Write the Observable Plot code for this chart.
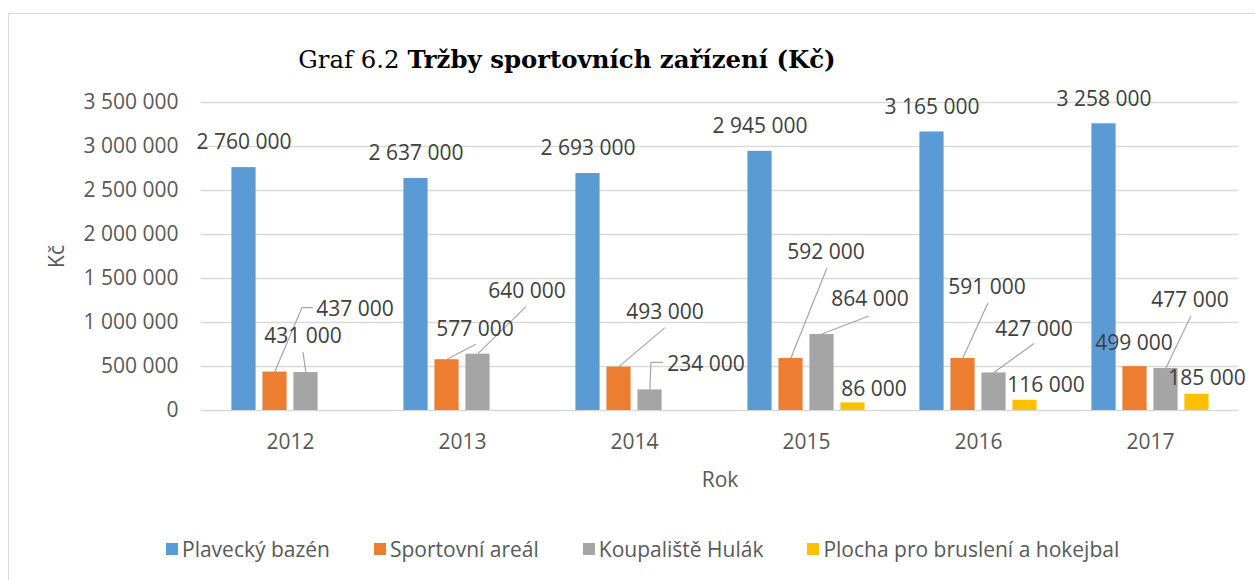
<!DOCTYPE html>
<html><head><meta charset="utf-8">
<script src="https://cdn.jsdelivr.net/npm/d3@7"></script>
<script src="https://cdn.jsdelivr.net/npm/@observablehq/plot@0.6"></script>
<style>
html,body{margin:0;padding:0;background:#fff;}
#wrap{position:relative;width:1255px;height:580px;overflow:hidden;font-family:"Open Sans",sans-serif;}
#frame{position:absolute;left:8px;top:13px;width:1300px;height:620px;border:1.5px solid #d9d9d9;box-sizing:border-box;}
#title{position:absolute;left:0;top:41px;width:1134px;text-align:center;font-family:"DejaVu Serif",serif;font-size:24.4px;color:#000;line-height:38px;white-space:nowrap;}
#title b{font-weight:bold;}
#chart{position:absolute;left:0;top:80px;}
#legend{position:absolute;left:166px;top:535px;display:flex;gap:44px;align-items:center;font-size:21px;color:#595959;white-space:nowrap;}
#legend .item{display:flex;align-items:center;gap:4px;}
#legend .sw{width:12px;height:12px;display:inline-block;}
</style>
</head>
<body>
<div id="wrap">
  <div id="frame"></div>
  <div id="title">Graf 6.2 <b>Tržby sportovních zařízení (Kč)</b></div>
  <div id="chart"></div>
  <div id="legend"></div>
</div>
<script>
// ---- data ----
const years = ["2012", "2013", "2014", "2015", "2016", "2017"];
const seriesNames = ["Plavecký bazén", "Sportovní areál", "Koupaliště Hulák", "Plocha pro bruslení a hokejbal"];
const plaveckyBazen = [2760000, 2637000, 2693000, 2945000, 3165000, 3258000];
const sportovniAreal = [437000, 577000, 493000, 592000, 591000, 499000];
const koupalisteHulak = [431000, 640000, 234000, 864000, 427000, 477000];
const plochaBrusleni = [null, null, null, 86000, 116000, 185000];
const yTicks = [0, 500000, 1000000, 1500000, 2000000, 2500000, 3000000, 3500000];

// ---- styles / layout ----
const seriesValues = [plaveckyBazen, sportovniAreal, koupalisteHulak, plochaBrusleni];
const colors = ["#5b9bd5", "#ed7d31", "#a5a5a5", "#ffc000"];
const W = 1255, H = 430, ML = 201, MR = 17, MT = 22, MB = 100;
const BW = (W - ML - MR) / years.length;
const barW = 25, barStep = 31;
const groupOff = (BW - (barStep * (seriesValues.length - 1) + barW)) / 2;
const centerOff = i => groupOff + barStep * i + barW / 2; // from band start

// manual label placement (pixel offsets from bar-top centre), like the Excel original
const defaultLabel = {dx: 0, dy: -25};
const labelLayout = {
  "1|2012": {dx: 80, dy: -63, leader: [[0, 0], [27, -64], [38, -64]]},
  "2|2012": {dx: -3, dy: -36, leader: [[0, 0], [-3, -20]]},
  "1|2013": {dx: 28, dy: -30, leader: [[0, 0], [29, -15]]},
  "2|2013": {dx: 49, dy: -63, leader: [[0, 0], [48, -47]]},
  "1|2014": {dx: 46, dy: -55, leader: [[0, 0], [46, -39]]},
  "2|2014": {dx: 56, dy: -26, leader: [[0, 0], [1, -27], [13, -27]]},
  "1|2015": {dx: 35, dy: -106, leader: [[0, 0], [36, -90]]},
  "2|2015": {dx: 48, dy: -35, leader: [[0, 0], [47, -18]]},
  "3|2015": {dx: 21, dy: -14},
  "1|2016": {dx: 24, dy: -71, leader: [[0, 0], [25, -55]]},
  "2|2016": {dx: 40, dy: -44, leader: [[0, 0], [40, -29]]},
  "3|2016": {dx: 21, dy: -15},
  "1|2017": {dx: -1, dy: -23},
  "2|2017": {dx: 24, dy: -68, leader: [[0, 0], [25, -52]]},
  "3|2017": {dx: 10, dy: -16}
};

const fmt = v => d3.format(",")(v).replace(/,/g, " ");

// ---- build records ----
const records = [];
seriesValues.forEach((vals, i) => years.forEach((y, j) => {
  if (vals[j] != null) records.push({series: i, year: y, value: vals[j]});
}));

const barMarks = seriesValues.map((vals, i) =>
  Plot.barY(records.filter(d => d.series === i), {
    x: "year", y: "value", fill: colors[i],
    insetLeft: groupOff + barStep * i,
    insetRight: BW - (groupOff + barStep * i) - barW
  })
);

const labelMarks = records.map(d => {
  const L = labelLayout[d.series + "|" + d.year] || defaultLabel;
  return Plot.text([d], {
    x: "year", y: "value", text: r => fmt(r.value),
    dx: centerOff(d.series) - BW / 2 + L.dx, dy: L.dy,
    fill: "#404040", fontSize: 21
  });
});

function leaderLines(index, scales) {
  const X = typeof scales.x === "function" ? scales.x : scales.x.apply;
  const Y = typeof scales.y === "function" ? scales.y : scales.y.apply;
  const g = d3.create("svg:g").attr("fill", "none").attr("stroke", "#a6a6a6").attr("stroke-width", 1.2);
  for (const d of records) {
    const L = labelLayout[d.series + "|" + d.year];
    if (!L || !L.leader) continue;
    const bx = X(d.year) + centerOff(d.series);
    const by = Y(d.value);
    g.append("path").attr("d", d3.line()(L.leader.map(([px, py]) => [bx + px, by + py])));
  }
  return g.node();
}

const plot = Plot.plot({
  width: W, height: H,
  marginLeft: ML, marginRight: MR, marginTop: MT, marginBottom: MB,
  style: {fontFamily: "Open Sans", fontSize: "21px", color: "#595959", background: "transparent", overflow: "visible"},
  x: {domain: years, padding: 0, label: null},
  y: {domain: [0, 3500000], label: null},
  marks: [
    Plot.gridY(yTicks, {stroke: "#d9d9d9", strokeOpacity: 1, strokeWidth: 1.4}),
    Plot.axisY(yTicks, {tickSize: 0, tickPadding: 23, tickFormat: fmt, label: null}),
    Plot.axisX({tickSize: 0, tickPadding: 24, label: null}),
    ...barMarks,
    leaderLines,
    ...labelMarks,
    Plot.text(["Kč"], {text: d => d, frameAnchor: "left", textAnchor: "middle", lineAnchor: "middle", dx: -144, rotate: -90, fill: "#595959", fontSize: 21}),
    Plot.text(["Rok"], {text: d => d, frameAnchor: "bottom", textAnchor: "middle", lineAnchor: "middle", dy: 70, fill: "#595959", fontSize: 21})
  ]
});
document.getElementById("chart").appendChild(plot);

// legend
const legend = document.getElementById("legend");
seriesNames.forEach((n, i) => {
  const it = document.createElement("div");
  it.className = "item";
  it.innerHTML = `<span class="sw" style="background:${colors[i]}"></span><span>${n}</span>`;
  legend.appendChild(it);
});
</script>
</body></html>
